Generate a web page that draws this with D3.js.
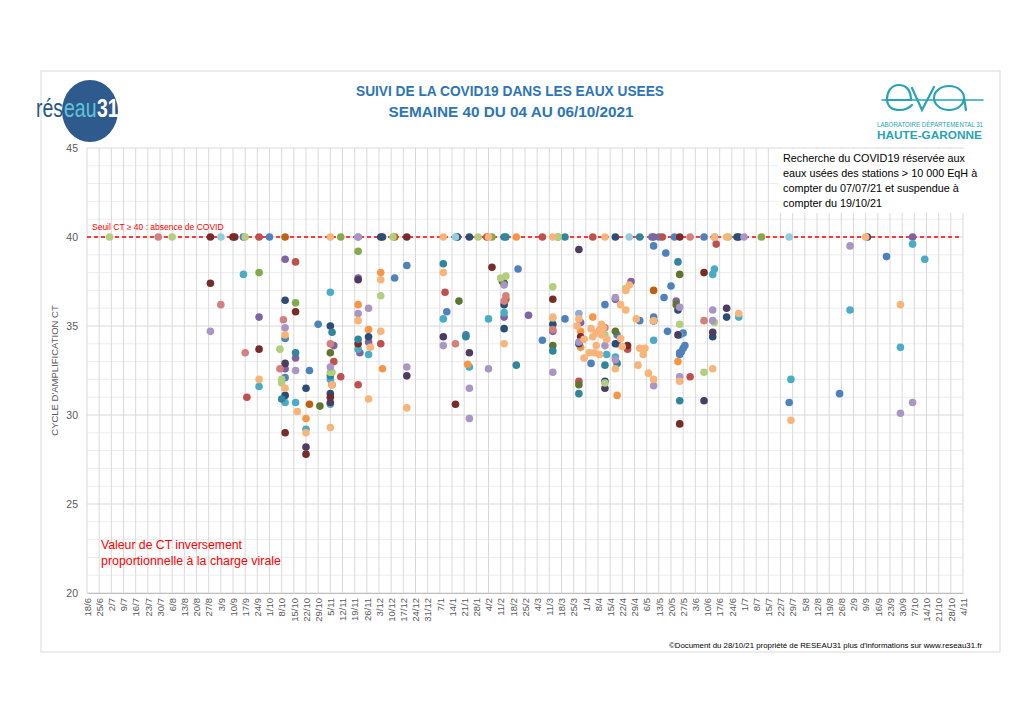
<!DOCTYPE html>
<html>
<head>
<meta charset="utf-8">
<title>Suivi de la COVID19 dans les eaux usées</title>
<script src="https://d3js.org/d3.v7.min.js"></script>
<style>
  body { margin: 0; background: #fff; }
  text { font-family: "Liberation Sans", Arial, sans-serif; }
</style>
</head>
<body>
<script>

// ---- données : [date de prélèvement, valeur de CT] par série (une couleur par série)
var serie01 = [["2020-09-16",40],["2020-10-01",40],["2020-10-10",34.3],["2020-10-10",32.1],["2020-10-24",32.5],["2020-10-29",35.1],["2020-12-12",37.7],["2020-12-19",38.4],["2021-01-11",35.8],["2021-01-17",40],["2021-01-22",34.5],["2021-02-21",38.2],["2021-03-07",34.2],["2021-03-20",35.4],["2021-04-04",32.9],["2021-04-12",36.2],["2021-04-19",34.5],["2021-05-02",35.3],["2021-05-10",35.5],["2021-05-09",40],["2021-05-13",40],["2021-05-10",39.5],["2021-05-16",36.6],["2021-05-17",39.1],["2021-05-18",34.7],["2021-05-20",37.25],["2021-05-22",40],["2021-05-27",34.6],["2021-05-25",33.5],["2021-05-25",33.4],["2021-05-26",33.55],["2021-05-27",33.75],["2021-05-28",33.9],["2021-06-08",40],["2021-07-27",30.7],["2021-08-25",31.2],["2021-09-21",38.9]];
var serie02 = [["2020-09-25",40],["2020-09-18",31.0],["2020-10-16",38.6],["2020-11-07",33.0],["2020-11-11",32.15],["2020-11-21",31.7],["2020-12-04",34.0],["2021-01-10",36.9],["2021-02-03",40],["2021-03-07",40],["2021-03-28",31.9],["2021-04-05",40],["2021-04-25",33.7],["2021-05-15",40],["2021-05-31",32.15],["2021-06-15",39.6]];
var serie03 = [["2020-09-25",38.0],["2020-10-16",36.3],["2020-11-11",40],["2020-11-21",39.2],["2021-02-06",40],["2021-03-16",40],["2021-07-11",40]];
var serie04 = [["2020-09-25",35.5],["2020-10-10",38.75],["2020-10-16",33.2],["2020-10-10",32.6],["2020-11-07",33.9],["2020-11-21",37.7],["2020-11-22",33.5],["2020-11-27",34.1],["2021-02-13",35.5],["2021-02-27",35.6],["2021-03-13",34.7],["2021-03-29",35.2],["2021-04-27",37.5],["2021-04-18",36.5],["2021-04-19",34.0],["2021-05-10",40],["2021-05-23",36.4],["2021-10-06",40]];
var serie05 = [["2020-09-16",37.9],["2020-09-25",31.6],["2020-10-10",30.7],["2020-10-16",30.7],["2020-11-05",36.9],["2020-11-05",32.0],["2020-11-05",30.6],["2020-11-21",33.7],["2020-11-27",33.4],["2020-10-22",29.2],["2021-01-09",35.4],["2021-01-24",32.7],["2021-02-04",35.4],["2021-02-13",35.75],["2021-04-13",33.4],["2021-04-18",33.25],["2021-05-10",34.2],["2021-05-25",34.5],["2021-06-13",37.9],["2021-06-14",38.2],["2021-06-28",35.5],["2021-07-28",32.0],["2021-08-31",35.9],["2021-09-29",33.8],["2021-10-06",39.6],["2021-10-13",38.75]];
var serie06 = [["2020-11-21",36.2],["2020-11-27",34.8],["2020-12-04",38.0],["2020-12-05",32.6],["2020-10-22",29.8],["2021-01-23",32.85],["2021-02-20",40],["2021-04-05",35.5],["2021-03-29",34.7],["2021-03-29",33.8],["2021-04-19",31.1],["2021-05-24",33.0]];
var serie07 = [["2020-10-10",36.45],["2020-10-10",31.1],["2020-10-22",31.5],["2020-11-05",35.0],["2020-11-05",31.2],["2020-11-27",34.4],["2020-12-04",40],["2020-12-05",40],["2021-01-17",40],["2021-01-24",40],["2021-02-13",37.4],["2021-02-13",36.2],["2021-02-13",34.85],["2021-03-13",35.1],["2021-03-28",34.0],["2021-04-12",31.9],["2021-04-18",34.0],["2021-04-18",40],["2021-05-24",35.9],["2021-06-13",34.4],["2021-06-21",35.5],["2021-06-27",40],["2021-06-28",40],["2021-09-10",40]];
var serie08 = [["2020-08-28",40],["2020-08-28",37.4],["2020-09-10",40],["2020-09-11",40],["2020-09-25",33.7],["2020-10-16",35.8],["2020-10-10",29.0],["2020-10-22",27.8],["2020-11-05",31.0],["2020-11-21",34.0],["2020-12-19",40],["2021-01-16",30.6],["2021-02-06",38.3],["2021-03-13",36.5],["2021-03-29",34.4],["2021-04-25",33.9],["2021-05-10",35.3],["2021-05-25",40],["2021-05-25",29.5],["2021-06-08",38.0]];
var serie09 = [["2020-10-30",30.5],["2020-11-05",33.5],["2021-01-18",36.4],["2021-02-12",37.5],["2021-03-13",33.9],["2021-03-28",31.7],["2021-04-18",34.7],["2021-05-25",37.9],["2021-05-23",36.2]];
var serie10 = [["2020-10-10",32.9],["2020-10-22",28.2],["2020-11-05",30.7],["2020-11-21",37.6],["2020-12-19",32.2],["2021-01-09",34.4],["2021-01-24",33.5],["2021-03-28",39.3],["2021-04-12",31.5],["2021-05-24",34.5],["2021-06-08",30.8],["2021-06-13",34.65],["2021-06-21",36.0]];
var serie11 = [["2020-10-08",30.9],["2020-10-16",33.5],["2020-11-05",32.2],["2020-11-06",34.65],["2020-11-21",34.25],["2021-01-09",38.5],["2021-01-22",34.4],["2021-02-13",40],["2021-02-14",40],["2021-02-20",32.8],["2021-03-13",33.6],["2021-03-20",40],["2021-03-28",31.2],["2021-04-19",32.9],["2021-04-12",32.8],["2021-05-02",40],["2021-05-10",35.3],["2021-05-24",38.6],["2021-05-25",30.8]];
var serie12 = [["2020-10-10",40],["2020-10-24",30.6],["2020-11-06",31.7],["2020-12-12",40],["2021-02-14",36.5],["2021-05-10",37.0]];
var serie13 = [["2020-11-21",40],["2021-03-28",35.7],["2021-06-14",40]];
var serie14 = [["2020-07-29",40],["2020-09-03",36.2],["2020-09-17",33.5],["2020-10-07",32.6],["2020-10-09",35.35],["2020-11-05",34.0],["2021-01-16",34.0],["2021-02-14",36.7],["2021-02-13",36.4],["2021-03-13",34.8],["2021-04-12",34.9],["2021-05-31",40],["2021-06-08",35.3]];
var serie15 = [["2020-07-01",40],["2020-08-06",40],["2020-09-17",40],["2020-10-07",33.7],["2020-10-08",32.0],["2020-10-08",31.8],["2020-11-05",32.4],["2020-11-06",32.4],["2020-12-04",36.7],["2020-12-11",40],["2021-01-29",40],["2021-02-11",37.7],["2021-02-14",37.8],["2021-03-13",37.2],["2021-03-13",35.45],["2021-03-16",40],["2021-04-12",34.5],["2021-04-12",31.8],["2021-04-24",37.1],["2021-05-25",35.1],["2021-06-08",32.4],["2021-06-14",35.2],["2021-06-22",40]];
var serie16 = [["2020-08-28",34.7],["2020-10-10",34.9],["2020-10-16",32.5],["2020-11-05",32.7],["2020-11-21",35.7],["2020-11-21",40],["2020-11-27",36.0],["2020-12-19",32.7],["2021-01-09",33.9],["2021-01-24",31.5],["2021-01-24",29.8],["2021-02-04",32.6],["2021-02-13",37.3],["2021-03-13",32.4],["2021-03-28",34.1],["2021-04-12",33.9],["2021-04-18",36.6],["2021-04-18",33.1],["2021-05-10",31.65],["2021-05-25",32.15],["2021-05-25",36.05],["2021-06-13",35.9],["2021-06-13",35.3],["2021-07-01",40],["2021-08-31",39.5],["2021-09-29",30.1],["2021-10-06",30.7]];
var serie17 = [["2020-09-03",40],["2021-01-16",40],["2021-04-26",40],["2021-07-27",40]];
var serie18 = [["2020-11-05",40],["2020-09-25",32.0],["2020-10-10",34.5],["2020-10-10",31.5],["2020-10-17",30.2],["2020-10-22",29.0],["2020-11-06",31.7],["2020-11-05",29.3],["2020-11-21",35.3],["2020-11-28",33.8],["2020-11-27",30.9],["2020-12-04",37.6],["2020-12-04",34.7],["2020-12-19",30.4],["2021-01-09",40],["2021-01-09",38.0],["2021-02-04",40],["2021-02-13",34.0],["2021-03-13",40],["2021-03-13",35.5],["2021-03-27",35.0],["2021-03-28",35.4],["2021-03-31",33.2],["2021-03-31",34.25],["2021-04-04",34.85],["2021-04-09",34.8],["2021-04-10",35.1],["2021-04-07",34.6],["2021-04-05",34.4],["2021-04-10",34.5],["2021-04-11",34.9],["2021-04-13",34.25],["2021-04-07",33.9],["2021-04-06",33.5],["2021-04-03",33.5],["2021-04-09",33.4],["2021-04-12",40],["2021-04-22",33.85],["2021-04-21",34.3],["2021-04-18",32.6],["2021-04-24",35.9],["2021-04-21",36.2],["2021-04-24",37.0],["2021-04-26",37.3],["2021-04-30",35.4],["2021-05-02",33.75],["2021-05-05",33.75],["2021-05-04",33.4],["2021-05-01",32.8],["2021-05-07",32.35],["2021-05-10",32.0],["2021-05-10",35.3],["2021-05-25",31.9],["2021-06-13",32.6],["2021-06-28",35.7],["2021-06-14",40],["2021-06-21",40],["2021-07-28",29.7],["2021-09-09",40],["2021-09-29",36.2]];

var couleurs = ["#4F81BD","#C0504D","#86A94A","#8064A2","#4BACC6","#F79646",
                "#2C4D75","#772C2A","#5F7530","#4D3B62","#31859C","#C0600E",
                "#8EAAD6","#D4807E","#B3CF7D","#A996C4","#93CDDD","#F9B47A"];

var yTicks = [20, 25, 30, 35, 40, 45];
var seuil = 40;
var dateDebut = "2020-06-18", dateFin = "2021-11-04";

var titre1 = "SUIVI DE LA COVID19 DANS LES EAUX USEES";
var titre2 = "SEMAINE 40 DU 04 AU 06/10/2021";
var noteLignes = ["Recherche du COVID19 réservée aux",
                  "eaux usées des stations > 10 000 EqH à",
                  "compter du 07/07/21 et suspendue à",
                  "compter du 19/10/21"];
var noteCT = ["Valeur de CT inversement", "proportionnelle à la charge virale"];

var series = [serie01, serie02, serie03, serie04, serie05, serie06, serie07, serie08, serie09,
              serie10, serie11, serie12, serie13, serie14, serie15, serie16, serie17, serie18];

var parse = d3.timeParse("%Y-%m-%d");

var w = 1024, h = 724;
var svg = d3.select("body").append("svg")
    .attr("width", w)
    .attr("height", h);

// cadre du graphique
svg.append("rect")
    .attr("x", 41).attr("y", 71)
    .attr("width", 959).attr("height", 581)
    .attr("fill", "#fff")
    .attr("stroke", "#D9D9D9");

var x = d3.scaleTime()
    .domain([parse(dateDebut), parse(dateFin)])
    .range([87, 963]);

var y = d3.scaleLinear()
    .domain([20, 45])
    .range([593, 148]);

var semaines = d3.timeThursday.range(parse(dateDebut), d3.timeDay.offset(parse(dateFin), 1));

// grille
var grille = svg.append("g");
grille.selectAll("line.mineur")
    .data(d3.range(21, 45).filter(function(d) { return d % 5 != 0; }))
    .enter().append("line")
    .attr("x1", 87).attr("x2", 963)
    .attr("y1", function(d) { return y(d); })
    .attr("y2", function(d) { return y(d); })
    .attr("stroke", "#EDEDED");
grille.selectAll("line.vert")
    .data(semaines)
    .enter().append("line")
    .attr("x1", function(d) { return x(d); })
    .attr("x2", function(d) { return x(d); })
    .attr("y1", y(45)).attr("y2", y(20))
    .attr("stroke", "#D9D9D9");
grille.selectAll("line.majeur")
    .data(yTicks)
    .enter().append("line")
    .attr("x1", 87).attr("x2", 963)
    .attr("y1", function(d) { return y(d); })
    .attr("y2", function(d) { return y(d); })
    .attr("stroke", "#D9D9D9");

// axe x
var axeX = svg.append("g")
    .attr("transform", "translate(0," + y(20) + ")")
    .call(d3.axisBottom(x).tickValues(semaines).tickFormat(d3.timeFormat("%-d/%-m")).tickSize(0));
axeX.select(".domain").attr("stroke", "#BFBFBF");
axeX.selectAll("text")
    .attr("transform", "rotate(-90)")
    .attr("x", -5).attr("y", 0)
    .attr("dy", "0.35em")
    .attr("text-anchor", "end")
    .attr("fill", "#595959")
    .style("font-size", "9.5px");

// axe y
var axeY = svg.append("g")
    .attr("transform", "translate(87,0)")
    .call(d3.axisLeft(y).tickValues(yTicks).tickSize(0).tickPadding(9));
axeY.select(".domain").remove();
axeY.selectAll("text").attr("fill", "#595959").style("font-size", "10.5px");

svg.append("text")
    .attr("transform", "translate(58," + y(32.5) + ") rotate(-90)")
    .attr("text-anchor", "middle")
    .attr("fill", "#595959")
    .style("font-size", "9.5px")
    .text("CYCLE D'AMPLIFICATION CT");

// seuil
svg.append("line")
    .attr("x1", 87).attr("x2", 962)
    .attr("y1", y(seuil)).attr("y2", y(seuil))
    .attr("stroke", "#FF0000")
    .attr("stroke-width", 1.3)
    .attr("stroke-dasharray", "4,3");
svg.append("text")
    .attr("x", 92).attr("y", y(seuil) - 7)
    .attr("fill", "#FF0000")
    .style("font-size", "8.5px")
    .text("Seuil CT \u2265 40 : absence de COVID");

// points
var points = svg.append("g");
series.forEach(function(s, i) {
  points.selectAll(null)
    .data(s)
    .enter().append("circle")
    .attr("cx", function(d) { return x(parse(d[0])); })
    .attr("cy", function(d) { return y(d[1]); })
    .attr("r", 3.8)
    .attr("fill", couleurs[i]);
});

// encadré texte
svg.append("rect")
    .attr("x", 778).attr("y", 149)
    .attr("width", 202).attr("height", 64)
    .attr("fill", "#fff");
svg.append("g").selectAll("text")
    .data(noteLignes)
    .enter().append("text")
    .attr("x", 783)
    .attr("y", function(d, i) { return 162 + i * 15; })
    .attr("fill", "#000")
    .style("font-size", "10.8px")
    .text(function(d) { return d; });

svg.append("g").selectAll("text")
    .data(noteCT)
    .enter().append("text")
    .attr("x", 101)
    .attr("y", function(d, i) { return 549 + i * 16; })
    .attr("fill", "#FF0000")
    .attr("textLength", function(d, i) { return i ? 180 : 141; })
    .attr("lengthAdjust", "spacingAndGlyphs")
    .style("font-size", "12px")
    .text(function(d) { return d; });

// titres
svg.append("text")
    .attr("x", 510).attr("y", 96)
    .attr("text-anchor", "middle")
    .attr("fill", "#2E75B6")
    .attr("font-weight", "bold")
    .attr("textLength", 308).attr("lengthAdjust", "spacingAndGlyphs")
    .style("font-size", "15px")
    .text(titre1);
svg.append("text")
    .attr("x", 511).attr("y", 117)
    .attr("text-anchor", "middle")
    .attr("fill", "#2E75B6")
    .attr("font-weight", "bold")
    .attr("textLength", 245).attr("lengthAdjust", "spacingAndGlyphs")
    .style("font-size", "15px")
    .text(titre2);

// logo réseau31 : trois morceaux de texte côte à côte, étirés en hauteur
var logo = svg.append("g");
logo.append("ellipse")
    .attr("cx", 90).attr("cy", 111)
    .attr("rx", 28).attr("ry", 31)
    .attr("fill", "#2F5A8E");
var morceaux = [
  { t: "rés", x0: 36, c: "#2A5780", b: "normal" },
  { t: "eau", x0: 64, c: "#5EC5D9", b: "normal" },
  { t: "31",  x0: 97, c: "#ffffff", b: "bold" }
];
logo.append("g")
    .attr("transform", "translate(0,117) scale(1,1.35) translate(0,-117)")
  .selectAll("text")
    .data(morceaux)
    .enter().append("text")
    .attr("x", function(d) { return d.x0; })
    .attr("y", 117)
    .attr("fill", function(d) { return d.c; })
    .attr("font-weight", function(d) { return d.b; })
    .style("font-size", "19.5px")
    .text(function(d) { return d.t; });

// logo eva
var eva = svg.append("g")
    .attr("fill", "none")
    .attr("stroke", "#28A3B5")
    .attr("stroke-width", 2.2)
    .attr("stroke-linecap", "round");
eva.append("line").attr("x1", 882).attr("x2", 983).attr("y1", 100).attr("y2", 100).attr("stroke-width", 1.5);
eva.append("path").attr("d", "M886,100 L911,100 C911,89 905,85 899,85 C891,85 887,92 887,99 C887,107 893,110 900,110 C905,110 909,108 912,105");
eva.append("path").attr("d", "M912,88 L922,110 L934,87");
eva.append("ellipse").attr("cx", 949).attr("cy", 98).attr("rx", 15).attr("ry", 12);
eva.append("path").attr("d", "M964,98 L966,110");
svg.append("text")
    .attr("x", 877).attr("y", 127)
    .attr("fill", "#28A3B5")
    .attr("textLength", 106).attr("lengthAdjust", "spacingAndGlyphs")
    .style("font-size", "6.5px")
    .text("LABORATOIRE DÉPARTEMENTAL 31");
svg.append("text")
    .attr("x", 877).attr("y", 139)
    .attr("fill", "#28A3B5")
    .attr("font-weight", "bold")
    .attr("textLength", 105).attr("lengthAdjust", "spacingAndGlyphs")
    .style("font-size", "11px")
    .text("HAUTE-GARONNE");

// pied de page
svg.append("text")
    .attr("x", 982).attr("y", 648)
    .attr("text-anchor", "end")
    .attr("fill", "#000")
    .attr("textLength", 313).attr("lengthAdjust", "spacingAndGlyphs")
    .style("font-size", "8px")
    .text("\u00A9Document du 28/10/21 propriété de RESEAU31 plus d'informations sur www.reseau31.fr");

</script>
</body>
</html>
